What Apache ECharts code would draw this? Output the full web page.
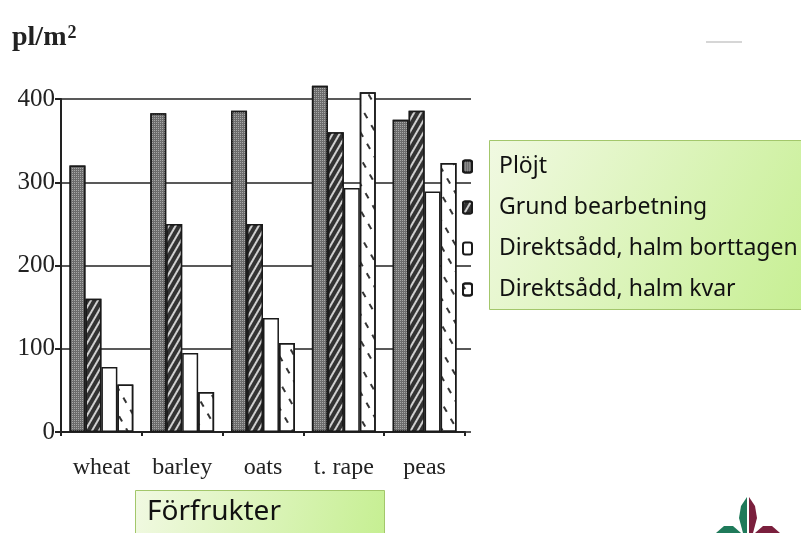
<!DOCTYPE html>
<html>
<head>
<meta charset="utf-8">
<script src="https://cdn.jsdelivr.net/npm/echarts@6/dist/echarts.min.js"></script>
<style>
  html, body { margin: 0; padding: 0; background: #fff; }
  #chart { width: 801px; height: 533px; }
</style>
</head>
<body>
<div id="chart"></div>
<script>
// crops along the x axis
const categories = ['wheat', 'barley', 'oats', 't. rape', 'peas']

// plants per m2
const plojt = [320, 383, 386, 416, 375]
const grund = [160, 250, 250, 360, 386]
const direktBorttagen = [78, 95, 137, 293, 289]
const direktKvar = [57, 48, 107, 408, 323]

const yTicks = [0, 100, 200, 300, 400]

const serif = '"Liberation Serif", "DejaVu Serif", serif'
const sans = '"Noto Sans", "Open Sans", sans-serif'

const greenFill = {
  type: 'linear', x: 0, y: 0, x2: 1, y2: 1,
  colorStops: [
    { offset: 0, color: '#f1f9e2' },
    { offset: 1, color: '#c6ef92' }
  ]
}

const border = { borderColor: '#1a1a1a', borderWidth: 1.5 }

const chart = echarts.init(document.getElementById('chart'))

chart.setOption({
  backgroundColor: '#fff',
  animation: false,
  grid: { left: 61, right: 336, top: 99, bottom: 101 },
  legend: {
    orient: 'vertical',
    left: 457,
    top: 150,
    itemWidth: 9,
    itemHeight: 12,
    itemGap: 18,
    selectedMode: false,
    textStyle: { fontFamily: sans, fontSize: 23, color: '#111', padding: [0, 0, 0, 22] }
  },
  xAxis: {
    type: 'category',
    data: categories,
    axisLine: { lineStyle: { color: '#222', width: 2 } },
    axisTick: { show: true, length: 4, lineStyle: { color: '#222', width: 2 } },
    axisLabel: { fontFamily: serif, fontSize: 24, color: '#222', margin: 24 }
  },
  yAxis: [
    {
      type: 'value',
      min: 0,
      max: 400,
      interval: 100,
      axisLine: { show: true, lineStyle: { color: '#222', width: 2 } },
      axisTick: { show: true, length: 6, lineStyle: { color: '#222', width: 2 } },
      axisLabel: {
        fontFamily: serif, fontSize: 25, color: '#222', margin: 6,
        formatter: v => yTicks.includes(v) ? String(v) : ''
      },
      splitLine: { show: true, lineStyle: { color: '#222', width: 1.5 } }
    },
    {
      type: 'value',
      min: 0,
      max: 400,
      interval: 100,
      position: 'right',
      axisLine: { show: false },
      axisTick: { show: true, length: 6, lineStyle: { color: '#222', width: 1.5 } },
      axisLabel: { show: false },
      splitLine: { show: false }
    }
  ],
  series: [
    {
      name: 'Plöjt',
      type: 'bar',
      clip: false,
      data: plojt,
      barGap: '0%',
      barCategoryGap: '21%',
      itemStyle: {
        color: '#6c6c6c', ...border,
        decal: { symbol: 'rect', color: '#a8a8a8', dashArrayX: [1, 1], dashArrayY: [1, 1], symbolSize: 1 }
      }
    },
    {
      name: 'Grund bearbetning',
      type: 'bar',
      clip: false,
      data: grund,
      itemStyle: {
        color: '#333333', ...border,
        decal: { symbol: 'rect', color: 'rgba(235,235,235,0.85)', dashArrayX: [1, 0], dashArrayY: [1.5, 3.5], rotation: -Math.PI / 3, symbolSize: 1 }
      }
    },
    {
      name: 'Direktsådd, halm borttagen',
      type: 'bar',
      clip: false,
      data: direktBorttagen,
      itemStyle: { color: '#fff', ...border }
    },
    {
      name: 'Direktsådd, halm kvar',
      type: 'bar',
      clip: false,
      data: direktKvar,
      itemStyle: {
        color: '#fff', ...border,
        decal: { symbol: 'rect', color: '#333', dashArrayX: [[6, 8]], dashArrayY: [1.5, 11], rotation: Math.PI / 3, symbolSize: 1 }
      }
    }
  ],
  graphic: [
    {
      type: 'text', left: 12, top: 24, z: 5,
      style: {
        text: '{b|pl/m}{s|2}',
        rich: {
          b: { fontFamily: serif, fontSize: 28, fontWeight: 'bold', fill: '#222' },
          s: { fontFamily: serif, fontSize: 18, fontWeight: 'bold', fill: '#222', verticalAlign: 'top', padding: [0, 0, 10, 1] }
        }
      }
    },
    {
      type: 'rect', z: 0,
      shape: { x: 489.5, y: 140.5, width: 320, height: 169 },
      style: { fill: greenFill, stroke: '#a3c76b', lineWidth: 1 }
    },
    {
      type: 'rect', z: 0,
      shape: { x: 135.5, y: 490.5, width: 249, height: 50 },
      style: { fill: greenFill, stroke: '#a3c76b', lineWidth: 1 }
    },
    {
      type: 'text', left: 147, top: 498, z: 5,
      style: { text: 'Förfrukter', fontFamily: sans, fontSize: 28, fill: '#111' }
    },
    {
      type: 'line', z: 0,
      shape: { x1: 706, y1: 42, x2: 742, y2: 42 },
      style: { stroke: '#c8c8c8', lineWidth: 1.5 }
    },
    {
      type: 'polygon', z: 5,
      shape: { points: [[747, 497], [741, 506], [739, 518], [743, 533], [747, 533]] },
      style: { fill: '#1f7a5a' }
    },
    {
      type: 'polygon', z: 5,
      shape: { points: [[749, 497], [755, 506], [757, 518], [753, 533], [749, 533]] },
      style: { fill: '#7a1f3d' }
    },
    {
      type: 'polygon', z: 5,
      shape: { points: [[741, 533], [733, 526], [724, 526], [716, 533]] },
      style: { fill: '#1f7a5a' }
    },
    {
      type: 'polygon', z: 5,
      shape: { points: [[755, 533], [763, 526], [772, 526], [780, 533]] },
      style: { fill: '#7a1f3d' }
    }
  ]
})
</script>
</body>
</html>
